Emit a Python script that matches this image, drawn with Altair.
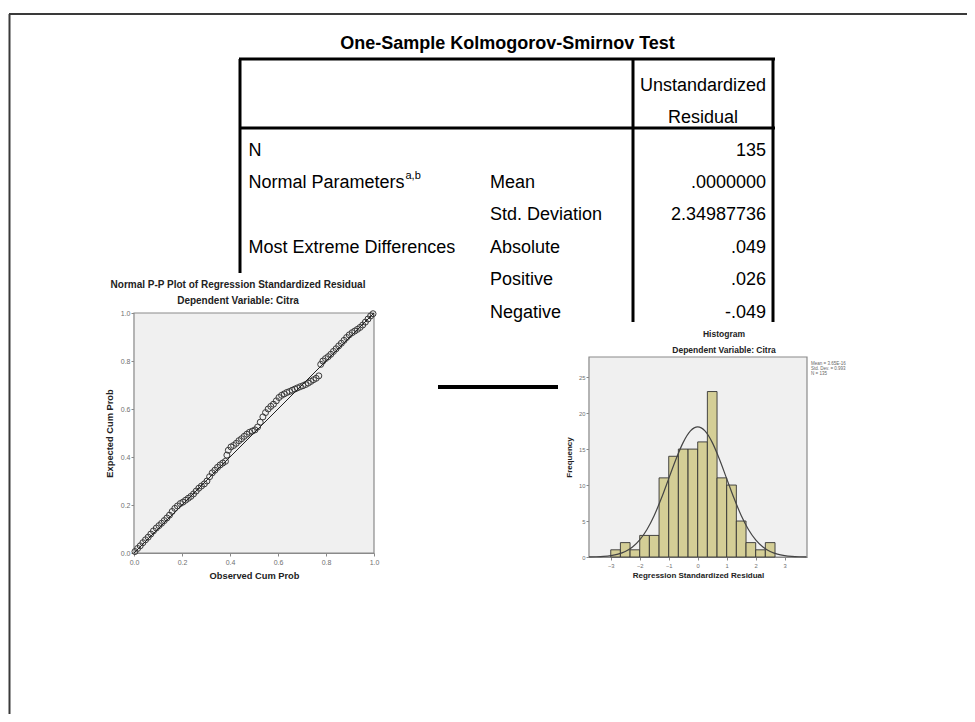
import altair as alt
import pandas as pd

W, H = 959, 706
FONT = "Liberation Sans"

# ---------------- table content ----------------
table_title = ["One-Sample Kolmogorov-Smirnov Test"]
header_text = ["Unstandardized", "Residual"]
header_rows = [-2, -1]
table_rows = [0, 1, 2, 3, 4, 5]
col1_labels = ["N", "Normal Parameters", "", "Most Extreme Differences", "", ""]
col2_labels = ["", "Mean", "Std. Deviation", "Absolute", "Positive", "Negative"]
col3_values = ["135", ".0000000", "2.34987736", ".049", ".026", "-.049"]
sup_text = ["a,b"]
sup_row = [1]

# ---------------- P-P plot ----------------
pp_title = ["Normal P-P Plot of Regression Standardized Residual"]
pp_subtitle = ["Dependent Variable: Citra"]
pp_observed = [0.004, 0.015, 0.026, 0.037, 0.048, 0.059, 0.070, 0.081, 0.093, 0.104,
               0.115, 0.126, 0.137, 0.148, 0.159, 0.170, 0.181, 0.193, 0.204, 0.215,
               0.226, 0.237, 0.248, 0.259, 0.270, 0.281, 0.293, 0.304, 0.315, 0.326,
               0.337, 0.348, 0.359, 0.370, 0.381, 0.387, 0.393, 0.404, 0.415, 0.426,
               0.437, 0.448, 0.459, 0.470, 0.481, 0.493, 0.504, 0.515, 0.526, 0.537,
               0.548, 0.559, 0.570, 0.581, 0.593, 0.604, 0.615, 0.626, 0.637, 0.648,
               0.659, 0.670, 0.681, 0.693, 0.704, 0.715, 0.726, 0.737, 0.748, 0.759,
               0.770, 0.778, 0.787, 0.798, 0.809, 0.820, 0.831, 0.842, 0.853, 0.864,
               0.875, 0.886, 0.897, 0.909, 0.920, 0.931, 0.942, 0.953, 0.964, 0.975,
               0.986, 0.996]
pp_expected = [0.006, 0.019, 0.030, 0.043, 0.055, 0.066, 0.079, 0.092, 0.104, 0.114,
               0.124, 0.135, 0.146, 0.158, 0.173, 0.186, 0.196, 0.206, 0.212, 0.220,
               0.228, 0.236, 0.246, 0.258, 0.270, 0.279, 0.288, 0.300, 0.318, 0.334,
               0.345, 0.357, 0.367, 0.375, 0.382, 0.408, 0.428, 0.442, 0.448, 0.457,
               0.468, 0.476, 0.486, 0.495, 0.503, 0.508, 0.513, 0.525, 0.545, 0.567,
               0.585, 0.600, 0.611, 0.620, 0.634, 0.648, 0.657, 0.663, 0.669, 0.673,
               0.678, 0.683, 0.688, 0.693, 0.697, 0.702, 0.708, 0.715, 0.722, 0.728,
               0.738, 0.786, 0.800, 0.810, 0.818, 0.828, 0.840, 0.851, 0.863, 0.874,
               0.886, 0.898, 0.909, 0.918, 0.925, 0.932, 0.940, 0.950, 0.962, 0.975,
               0.988, 0.997]
pp_diag = [0.0, 1.0]
pp_ticks = [0.0, 0.2, 0.4, 0.6, 0.8, 1.0]

# ---------------- histogram ----------------
hist_title = ["Histogram"]
hist_subtitle = ["Dependent Variable: Citra"]
hist_bin_start = [-3.0, -2.667, -2.333, -2.0, -1.667, -1.333, -1.0, -0.667, -0.333,
                  0.0, 0.333, 0.667, 1.0, 1.333, 1.667, 2.0, 2.333]
hist_bin_end = [-2.667, -2.333, -2.0, -1.667, -1.333, -1.0, -0.667, -0.333, 0.0,
                0.333, 0.667, 1.0, 1.333, 1.667, 2.0, 2.333, 2.667]
hist_counts = [1, 2, 1, 3, 3, 11, 14, 15, 15, 16, 23, 11, 10, 5, 2, 1, 2]
curve_x = [-3.75, -3.5, -3.25, -3.0, -2.75, -2.5, -2.25, -2.0, -1.75, -1.5, -1.25,
           -1.0, -0.75, -0.5, -0.25, 0.0, 0.25, 0.5, 0.75, 1.0, 1.25, 1.5, 1.75,
           2.0, 2.25, 2.5, 2.75, 3.0, 3.25, 3.5, 3.75]
curve_y = [0.015, 0.036, 0.085, 0.19, 0.39, 0.76, 1.39, 2.38, 3.83, 5.78, 8.19,
           10.89, 13.59, 15.93, 17.52, 18.08, 17.52, 15.93, 13.59, 10.89, 8.19, 5.78,
           3.83, 2.38, 1.39, 0.76, 0.39, 0.19, 0.085, 0.036, 0.015]
hist_xticks = [-3, -2, -1, 0, 1, 2, 3]
hist_yticks = [0, 5, 10, 15, 20, 25]
hist_stats = ["Mean = 3.65E-16", "Std. Dev. = 0.993", "N = 135"]
hist_stats_line = [0, 1, 2]


def one(text):
    return pd.DataFrame({"t": text})


def vrule(x, y0, y1, w, color="#000"):
    return alt.Chart(one([""])).mark_rule(color=color, strokeWidth=w).encode(
        x=alt.value(x), y=alt.value(y0), y2=alt.value(y1))


def hrule(y, x0, x1, w, color="#000"):
    return alt.Chart(one([""])).mark_rule(color=color, strokeWidth=w).encode(
        y=alt.value(y), x=alt.value(x0), x2=alt.value(x1))


def label(text, x, y, size, weight="bold", color="#222", align="center"):
    return alt.Chart(one(text)).mark_text(
        font=FONT, fontSize=size, fontWeight=weight, color=color, align=align,
        baseline="middle").encode(x=alt.value(x), y=alt.value(y), text="t:N")


# ---------------- outer frame ----------------
frame = [hrule(6, 1, W, 2, "#3a3a3a"), vrule(1.5, 6, H, 2, "#3a3a3a")]

# ---------------- table ----------------
ty = alt.Scale(domain=[0, 5], range=[142.5, 304.5], zero=False, nice=False)


def table_text(rows, texts, x, align, size=18, dy=0):
    df = pd.DataFrame({"row": rows, "t": texts})
    return alt.Chart(df).mark_text(
        font=FONT, fontSize=size, color="#000", align=align, baseline="middle", dy=dy
    ).encode(y=alt.Y("row:Q", scale=ty, axis=None), x=alt.value(x), text="t:N")


table_texts = [
    table_text(header_rows, header_text, 695, "center"),
    table_text(table_rows, col1_labels, 240.5, "left"),
    table_text(table_rows, col2_labels, 482, "left"),
    table_text(table_rows, col3_values, 758, "right"),
    table_text(sup_row, sup_text, 397.5, "left", size=11, dy=-7),
]
table_lines = [
    hrule(51, 231, 767, 3), hrule(120, 231, 767, 3),
    vrule(232, 51, 265, 3), vrule(625, 51, 314, 3), vrule(765, 51, 314, 3),
    hrule(379, 430, 550, 4),
]
table_head = label(table_title, 499.5, 36, 18, color="#000")

# ---------------- P-P plot ----------------
pxs = alt.Scale(domain=[0, 1], range=[126, 366], zero=False, nice=False)
pys = alt.Scale(domain=[0, 1], range=[545, 305], zero=False, nice=False)
axis_common = dict(labelFont=FONT, labelColor="#707070", tickColor="#888", tickWidth=1,
                   domainColor="#8a8a8a", domainWidth=1.2, grid=False, labelFlush=False,
                   titleFont=FONT, titleFontWeight="bold", titleColor="#222")
pp_xaxis = alt.Axis(orient="bottom", offset=-161, values=pp_ticks, format=".1f",
                    labelFontSize=7, labelPadding=2, tickSize=3,
                    title="Observed Cum Prob", titleFontSize=9.3, titlePadding=6,
                    **axis_common)
pp_yaxis = alt.Axis(orient="left", offset=-126, values=pp_ticks, format=".1f",
                    labelFontSize=7, labelPadding=1, tickSize=3,
                    title="Expected Cum Prob", titleFontSize=9.3, titlePadding=6,
                    **axis_common)

pp_bg = alt.Chart(one([""])).mark_rect(fill="#f0f0f0", stroke="#8a8a8a", strokeWidth=1.2).encode(
    x=alt.XDatum(0, type="quantitative", scale=pxs, axis=None), x2=alt.X2Datum(1),
    y=alt.YDatum(0, type="quantitative", scale=pys, axis=None), y2=alt.Y2Datum(1))
pp_pts = alt.Chart(pd.DataFrame({"obs": pp_observed, "exp": pp_expected})).mark_point(
    shape="circle", filled=False, size=36, stroke="#3a3a3a", strokeWidth=1, opacity=1
).encode(x=alt.X("obs:Q", scale=pxs, axis=pp_xaxis), y=alt.Y("exp:Q", scale=pys, axis=pp_yaxis))
pp_line = alt.Chart(pd.DataFrame({"d": pp_diag})).mark_line(color="#222", strokeWidth=1).encode(
    x=alt.X("d:Q", scale=pxs, axis=None), y=alt.Y("d:Q", scale=pys, axis=None))
pp_titles = [label(pp_title, 230, 277, 10), label(pp_subtitle, 230, 293, 10)]

# ---------------- histogram ----------------
hxs = alt.Scale(domain=[-3.75, 3.77], range=[581, 799], zero=False, nice=False)
hys = alt.Scale(domain=[0, 27.8], range=[549, 349], zero=False, nice=False)
h_xaxis = alt.Axis(orient="bottom", offset=-157, values=hist_xticks, format="d",
                   labelFontSize=5.8, labelPadding=2, tickSize=3,
                   title="Regression Standardized Residual", titleFontSize=8, titlePadding=4,
                   **axis_common)
h_yaxis = alt.Axis(orient="left", offset=-581, values=hist_yticks, format="d",
                   labelFontSize=5.8, labelPadding=1, tickSize=3,
                   title="Frequency", titleFontSize=8, titlePadding=5,
                   **axis_common)

h_bg = alt.Chart(one([""])).mark_rect(fill="#f0f0f0", stroke="#8a8a8a", strokeWidth=1.2).encode(
    x=alt.XDatum(-3.75, type="quantitative", scale=hxs, axis=None), x2=alt.X2Datum(3.77),
    y=alt.YDatum(0, type="quantitative", scale=hys, axis=None), y2=alt.Y2Datum(27.8))
h_bars = alt.Chart(pd.DataFrame({"s": hist_bin_start, "e": hist_bin_end, "n": hist_counts})).mark_rect(
    fill="#d4ce96", stroke="#333", strokeWidth=0.9
).encode(x=alt.X("s:Q", scale=hxs, axis=h_xaxis), x2="e:Q",
         y=alt.Y("n:Q", scale=hys, axis=h_yaxis), y2=alt.Y2Datum(0))
h_curve = alt.Chart(pd.DataFrame({"cx": curve_x, "cy": curve_y})).mark_line(
    color="#444", strokeWidth=1.2, interpolate="monotone"
).encode(x=alt.X("cx:Q", scale=hxs, axis=None), y=alt.Y("cy:Q", scale=hys, axis=None))
hist_titles = [label(hist_title, 716, 326, 8.5), label(hist_subtitle, 716, 342, 8.5)]

sy = alt.Scale(domain=[0, 2], range=[356, 366], zero=False, nice=False)
hist_stat_text = alt.Chart(pd.DataFrame({"i": hist_stats_line, "t": hist_stats})).mark_text(
    font=FONT, fontSize=4.5, color="#666", align="left", baseline="middle"
).encode(x=alt.value(803), y=alt.Y("i:Q", scale=sy, axis=None), text="t:N")

chart = alt.layer(
    *frame, *table_lines, table_head, *table_texts,
    pp_bg, pp_pts, pp_line, *pp_titles,
    h_bg, h_bars, h_curve, *hist_titles, hist_stat_text
).resolve_scale(x="independent", y="independent").resolve_axis(
    x="independent", y="independent"
).properties(
    width=W, height=H, padding=0, autosize=alt.AutoSizeParams(type="none"),
    background="white"
).configure_view(stroke=None)

chart.save("out.html", embed_options={"renderer": "svg", "actions": False})
